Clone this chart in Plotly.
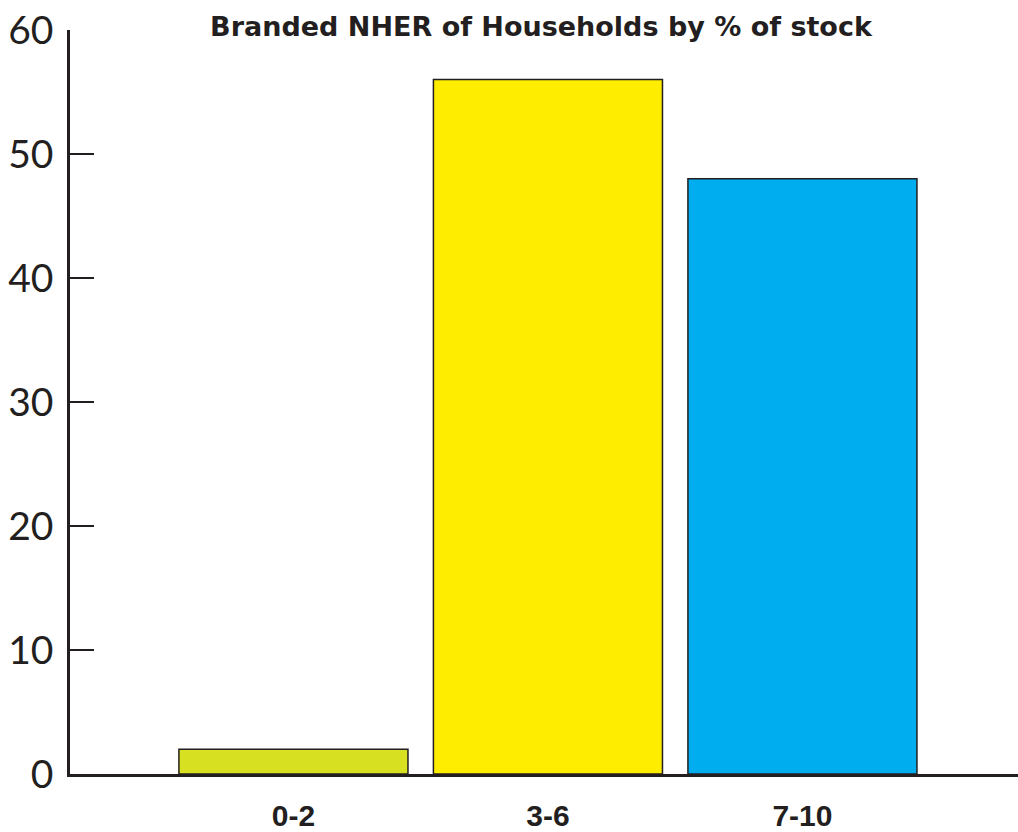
import plotly.graph_objects as go

# Branded NHER bands and share of housing stock (%)
categories = ["0-2", "3-6", "7-10"]
values = [2, 56, 48]
bar_colors = ["#d7e021", "#ffed00", "#00aeef"]

ink = "#231f20"
positions = list(range(len(categories)))

fig = go.Figure(
    go.Bar(
        x=positions,
        y=values,
        width=0.9,
        marker=dict(color=bar_colors, line=dict(color=ink, width=1.5)),
        hoverinfo="x+y",
    )
)

fig.update_layout(
    width=1018,
    height=832,
    margin=dict(l=70, r=0, t=30, b=58),
    paper_bgcolor="white",
    plot_bgcolor="white",
    showlegend=False,
    title=dict(
        text="<b>Branded NHER of Households by % of stock</b>",
        font=dict(family="DejaVu Sans, sans-serif", size=27, color=ink),
        x=541 / 1018,
        xanchor="center",
        xref="container",
        y=1 - 27 / 832,
        yanchor="middle",
        yref="container",
    ),
)

fig.update_xaxes(
    range=[-0.878, 2.847],
    tickmode="array",
    tickvals=positions,
    ticktext=[f"<b>{c}</b>" for c in categories],
    tickfont=dict(family="Liberation Sans, Arial, sans-serif", size=30, color=ink),
    ticks="",
    ticklen=0,
    ticklabelstandoff=13,
    showline=True,
    linecolor=ink,
    linewidth=2.5,
    showgrid=False,
    zeroline=False,
    fixedrange=True,
)

fig.update_yaxes(
    range=[0, 60],
    tickmode="array",
    tickvals=[0, 10, 20, 30, 40, 50, 60],
    tickfont=dict(family="Lato, Open Sans, sans-serif", size=39, color=ink),
    ticks="inside",
    ticklen=24,
    tickwidth=2,
    tickcolor=ink,
    ticklabelstandoff=6,
    showline=True,
    linecolor=ink,
    linewidth=2.5,
    showgrid=False,
    zeroline=False,
    fixedrange=True,
)

fig.write_html("out.html")
